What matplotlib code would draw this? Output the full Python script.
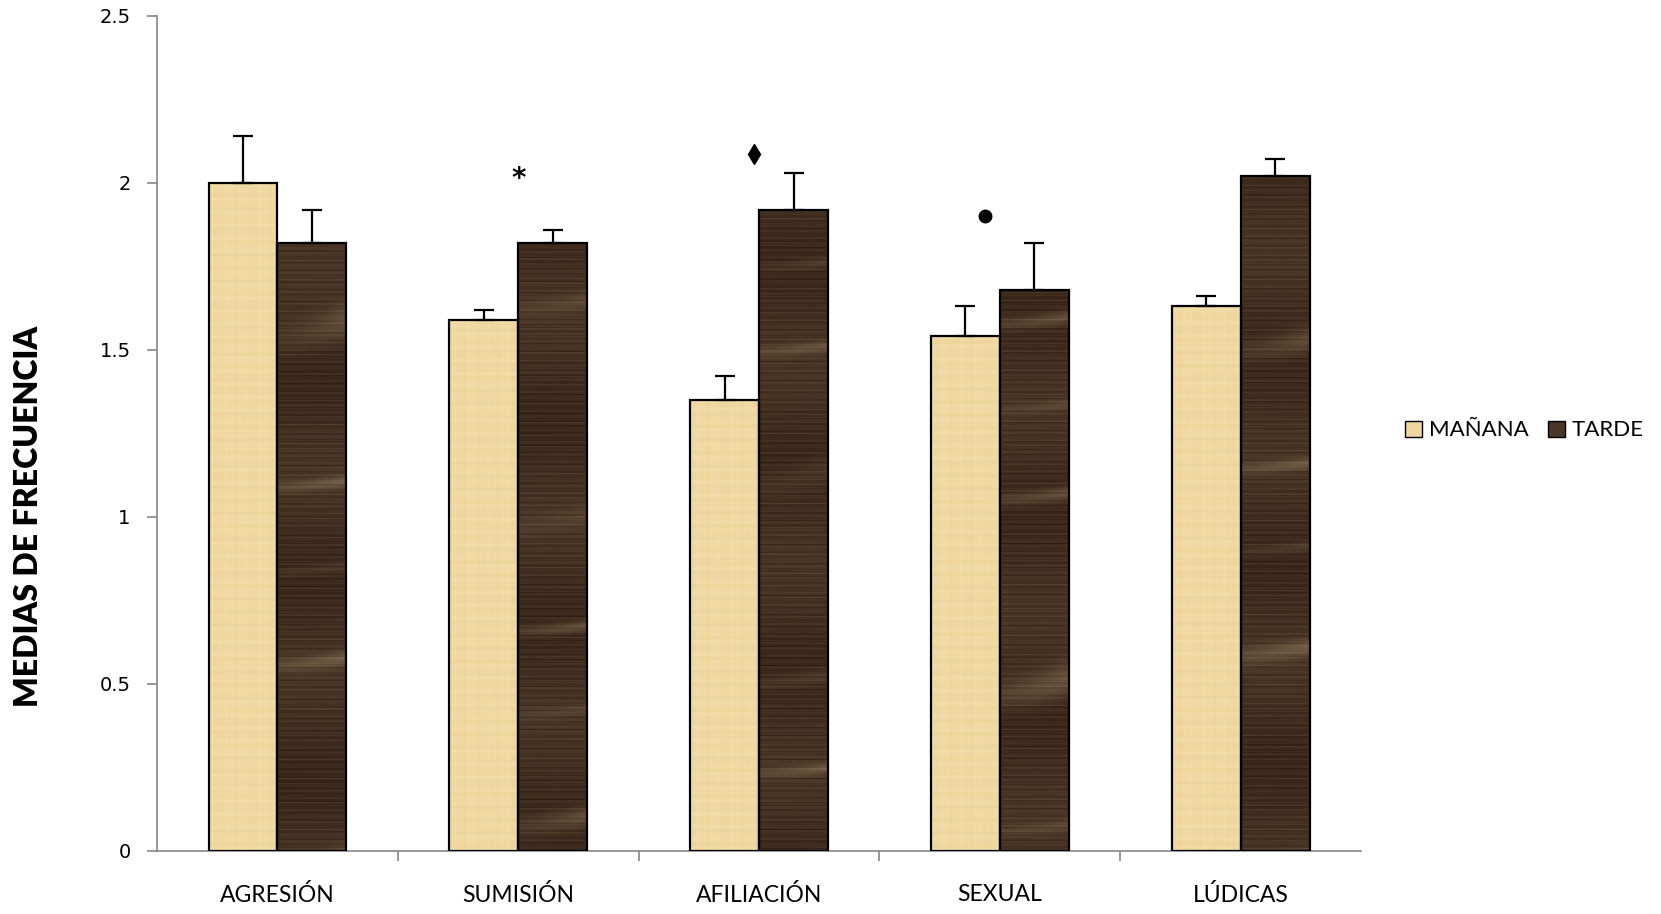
import numpy as np
import matplotlib
matplotlib.use("Agg")
import matplotlib.pyplot as plt
from matplotlib.patches import Patch

categorias = ["AGRESIÓN", "SUMISIÓN", "AFILIACIÓN", "SEXUAL", "LÚDICAS"]
manana = [2.00, 1.59, 1.35, 1.54, 1.63]
manana_err = [0.14, 0.03, 0.07, 0.09, 0.03]
tarde = [1.82, 1.82, 1.92, 1.68, 2.02]
tarde_err = [0.10, 0.04, 0.11, 0.14, 0.05]

# marcas de significancia: (categoria, desplazamiento, altura, simbolo)
marcas = [(1, 0.0, 2.01, "*"), (2, -0.02, 2.085, "d"), (3, -0.06, 1.90, "o")]


def mezclar(base, claro, peso):
    base = np.array(matplotlib.colors.to_rgb(base))
    claro = np.array(matplotlib.colors.to_rgb(claro))
    return np.clip(base + (claro - base) * peso[..., None], 0, 1)


def madera(fase, filas=800, cols=70):
    # vetas finas horizontales y algunas bandas claras que suben hacia la derecha
    y = np.linspace(0, 1, filas)[:, None]
    x = np.linspace(0, 1, cols)[None, :]
    finas = (np.sin(2 * np.pi * (y * 173 + fase)) * np.sin(2 * np.pi * (y * 41 + 2 * fase))
             + 0.6 * np.sin(2 * np.pi * (y * 311 + 0.1 * x + fase)))
    curva = y * 6.5 + 0.35 * np.sin(2 * np.pi * (y * 1.7 + fase)) + fase - 0.06 * x ** 1.5
    bandas = np.exp(-((np.mod(curva, 1.0) - 0.5) ** 2) / 0.004)
    bandas *= (0.3 + 0.7 * np.sin(2 * np.pi * (y * 2.3 + 1.7 * fase)) ** 2) * (0.5 + 0.5 * x)
    tono = 0.10 * np.sin(2 * np.pi * (y * 4.1 + fase)) + 0.08
    peso = 0.18 * finas + 0.75 * bandas + tono
    return mezclar("#3d2a1c", "#7a664c", peso)


def papiro(fase, filas=800, cols=70):
    # fibras tenues horizontales y verticales
    y = np.linspace(0, 1, filas)[:, None]
    x = np.linspace(0, 1, cols)[None, :]
    horiz = np.sin(2 * np.pi * (y * 97 + fase)) * np.sin(2 * np.pi * (y * 29 + fase))
    vert = np.sin(2 * np.pi * (x * 7 + fase)) * np.sin(2 * np.pi * (x * 3.1 + 2 * fase))
    peso = 0.25 * horiz + 0.15 * vert
    return mezclar("#efd8a2", "#f8e7bd", peso)


plt.rcParams['font.family'] = ['Lato', 'DejaVu Sans']

fig = plt.figure(figsize=(16.61, 9.14), dpi=100)
ax = fig.add_axes([0.0945, 0.0694, 0.725, 0.9132])

x = np.arange(len(categorias))
ancho = 0.286
ymax = 2.5

for i in x:
    fase = 0.23 * i
    for pos, valor, tex in ((i - ancho / 2, manana[i], papiro(fase)),
                            (i + ancho / 2, tarde[i], madera(fase + 0.4))):
        barra = ax.bar(pos, valor, ancho, facecolor="none", edgecolor="black",
                       linewidth=1.6, zorder=3)[0]
        img = ax.imshow(tex, extent=[pos - ancho / 2, pos + ancho / 2, 0, ymax],
                        aspect="auto", origin="lower", zorder=2, interpolation="bilinear")
        img.set_clip_path(barra)

ax.errorbar(x - ancho / 2, manana, yerr=[np.zeros(5), manana_err], fmt="none",
            ecolor="black", elinewidth=1.6, capsize=7, capthick=1.6, zorder=4)
ax.errorbar(x + ancho / 2, tarde, yerr=[np.zeros(5), tarde_err], fmt="none",
            ecolor="black", elinewidth=1.6, capsize=7, capthick=1.6, zorder=4)

for cat, dx, alto, simbolo in marcas:
    if simbolo == "*":
        ax.text(cat + dx, alto, "*", ha="center", va="center", fontsize=20,
                fontweight="bold", family="DejaVu Sans")
    else:
        ax.plot(cat + dx, alto, marker=simbolo, color="black",
                markersize=10 if simbolo == "d" else 9, zorder=5)

ax.set_xlim(-0.5, len(categorias) - 0.5)
ax.set_ylim(0, ymax)
ax.set_yticks([0, 0.5, 1, 1.5, 2, 2.5])
ax.set_yticklabels(["0", "0.5", "1", "1.5", "2", "2.5"], family="DejaVu Sans", fontsize=14)
ax.set_xticks(x)
ax.set_xticklabels(categorias, fontsize=16.5)
ax.set_xticks(np.arange(0.5, len(categorias) - 0.5, 1), minor=True)
ax.tick_params(axis="x", which="major", length=0, pad=24)
ax.tick_params(axis="x", which="minor", length=7, color="#868686", width=1.2)
ax.tick_params(axis="y", length=7, color="#868686", width=1.2, pad=12)

for lado in ("top", "right"):
    ax.spines[lado].set_visible(False)
for lado in ("left", "bottom"):
    ax.spines[lado].set_color("#868686")
    ax.spines[lado].set_linewidth(1.2)

fig.text(0.017, 0.435, "MEDIAS DE FRECUENCIA", rotation=90, ha="center", va="center",
         fontsize=23, fontweight="heavy", family="Lato")

handles = [Patch(facecolor="#efd7a0", edgecolor="black", label="MAÑANA"),
           Patch(facecolor="#4a3626", edgecolor="black", label="TARDE")]
fig.legend(handles=handles, loc="center left", bbox_to_anchor=(0.834, 0.529), ncol=2,
           frameon=False, fontsize=16, handlelength=0.75, handleheight=0.75,
           handletextpad=0.3, columnspacing=0.9)

fig.savefig("out.png", dpi=100)
